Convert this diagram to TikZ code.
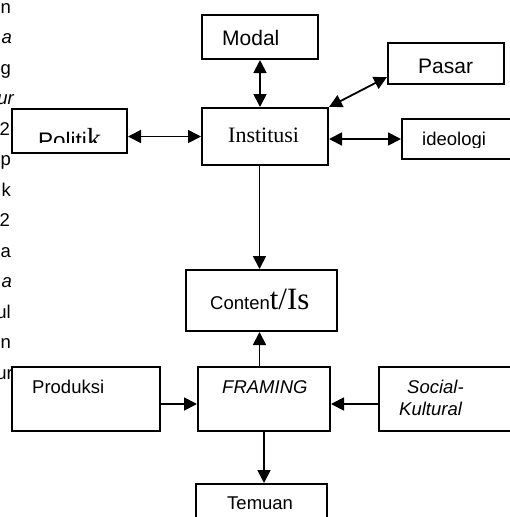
\documentclass[tikz,border=0pt]{standalone}
\usepackage{fontspec}
\setmainfont{Liberation Serif}
\newfontfamily\arialf{Liberation Sans}
\newfontfamily\tmsf{Liberation Serif}
\usetikzlibrary{arrows.meta,calc}
\tikzset{
  box/.style={draw, line width=2pt, fill=white, inner sep=0pt, anchor=north west, rectangle},
  lbl/.style={inner sep=0pt, anchor=base west, font=\arialf\fontsize{18.5}{20}\selectfont},
  frag/.style={inner sep=0pt, anchor=base east, font=\arialf\fontsize{18.5}{20}\selectfont},
  conn/.style={line width=1.8pt, -{Triangle[length=13pt,width=13pt]}},
  biconn/.style={line width=1.8pt, {Triangle[length=13pt,width=13pt]}-{Triangle[length=13pt,width=13pt]}}
}
\begin{document}
\begin{tikzpicture}[x=1pt,y=-1pt]
\useasboundingbox (0,0) rectangle (510,517);
\clip (0,0) rectangle (510,517);
% left margin text fragments
\node[frag] (f1) at (11,13) {n};
\node[frag] (f2) at (12,43.5) {\itshape a};
\node[frag] (f3) at (11,74) {g};
\node[frag] (f4) at (14,104.5) {\itshape ur};
\node[frag] (f5) at (10,135) {2};
\node[frag] (f6) at (11,165.5) {p};
\node[frag] (f7) at (11,196) {k};
\node[frag] (f8) at (10,226.5) {2};
\node[frag] (f9) at (11,257) {a};
\node[frag] (f10) at (12,287.5) {\itshape a};
\node[frag] (f11) at (11,318) {ul};
\node[frag] (f12) at (11,348.5) {n};
\node[frag] (f13) at (13,379) {ur};
% boxes
\node[box, minimum width=116, minimum height=44] (Modal) at (201,14) {};
\node[box, minimum width=116, minimum height=41] (Pasar) at (387,42) {};
\node[box, minimum width=126, minimum height=57] (Institusi) at (201,107) {};
\node[box, minimum width=139, minimum height=40] (ideologi) at (401,118) {};
\node[box, minimum width=115, minimum height=44] (Politik) at (11,108) {};
\node[box, minimum width=151, minimum height=61] (Content) at (185,269) {};
\node[box, minimum width=148, minimum height=64] (Produksi) at (11,366) {};
\node[box, minimum width=132, minimum height=64] (FRAMING) at (197,366) {};
\node[box, minimum width=162, minimum height=64] (Social) at (378,366) {};
\node[box, minimum width=131, minimum height=57] (Temuan) at (195,483) {};
% texts
\node[lbl, font=\arialf\fontsize{21}{23}\selectfont] (tModal) at (222,45) {Modal};
\node[lbl, font=\arialf\fontsize{21}{23}\selectfont] (tPasar) at (418,73) {Pasar};
\node[lbl, font=\tmsf\fontsize{22}{24}\selectfont] (tInst) at (228,142) {Institusi};
\begin{scope}
\clip (402,119) rectangle (510,147);
\node[lbl] (tIdeo) at (422,145) {ideologi};
\end{scope}
\begin{scope}
\clip (12,109) rectangle (125,142);
\node[lbl, font=\arialf\fontsize{22.5}{24}\selectfont] (tPol) at (38,148) {Politi{\tmsf\fontsize{29}{30}\selectfont k}};
\end{scope}
\node[lbl] (tCont) at (210,309) {Conten{\tmsf\fontsize{31}{32}\selectfont t/Is}};
\node[lbl] (tProd) at (32,393) {Produksi};
\node[lbl] (tFram) at (222,393) {\itshape FRAMING};
\node[lbl] (tSoc1) at (407,393) {\itshape Social-};
\node[lbl] (tSoc2) at (399,415) {\itshape Kultural};
\node[lbl] (tTem) at (227,509) {Temuan};
% connectors
\draw[biconn] (Modal.south) -- (Modal.south |- Institusi.north);
\draw[biconn] ([yshift=8pt]Pasar.south west) -- (Institusi.north east);
\draw[biconn] (Politik.east |- Institusi.west) -- (Institusi.west);
\draw[biconn] (Institusi.east |- ideologi.west) -- (ideologi.west);
\draw[conn] ([xshift=-2pt]Content.north |- Institusi.south) -- ([xshift=-2pt]Content.north);
\draw[conn] ([xshift=-2pt]Content.south |- FRAMING.north) -- ([xshift=-2pt]Content.south);
\draw[conn] ([yshift=-5pt]Produksi.east) -- ([yshift=-5pt]FRAMING.west);
\draw[conn] ([yshift=-5pt]Social.west) -- ([yshift=-5pt]FRAMING.east);
\draw[conn] (FRAMING.south) -- (FRAMING.south |- Temuan.north);
\end{tikzpicture}
\end{document}
